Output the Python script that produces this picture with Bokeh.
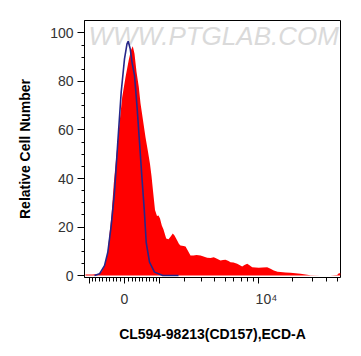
import numpy as np
from bokeh.plotting import figure
from bokeh.models import Range1d, FixedTicker, CustomJSTickFormatter, Label
from bokeh.embed import file_html
from bokeh.resources import INLINE

# ---- data (x in display channels of a biexponential axis, 0 = zero intensity) ----
red_x = [-39, -32, -26, -23, -20, -17, -15, -13, -10.7, -8, -4.7, -2.3, 1, 4.3, 6.5, 8.3, 10,
         12, 14.3, 16, 18.5, 21, 23.5, 25.5, 27, 28.5, 30.5, 32.5, 34, 35.5, 37.3, 39, 41.7, 44,
         46, 48.3, 50, 52.7, 54.5, 56, 59, 61, 63, 66, 69, 72, 76, 79, 82.7, 86, 89.3, 92, 96,
         98.5, 101, 104, 106, 109, 112.7, 115, 117.7, 120, 122.7, 125, 127.7, 131, 134.3, 138,
         142.7, 146, 149.3, 153, 156, 161, 166, 171, 176, 181, 186, 196, 206, 212.7, 214, 216]
red_y = [0.4, 0.4, 0.6, 1.5, 4, 9, 17, 25, 38, 50, 64, 73.5, 81.8, 89, 93, 94.5, 91.4,
         84, 77.7, 71, 64, 57, 51, 46, 41, 35, 27, 24.5, 24.7, 23.5, 20.6, 19, 15.3, 15,
         16, 17.3, 16.5, 14.4, 13, 12.4, 12.2, 12, 10.5, 8.2, 8.3, 8.5, 8.2, 7.8, 7.3, 7.2, 7.5, 7, 6.2,
         6.4, 6.5, 6, 5.5, 5.4, 4.8, 4.3, 3.7, 4.3, 4.8, 4.2, 3.4, 3.3, 3.2, 3.3,
         3.4, 2.8, 2.1, 1.6, 1.4, 1.2, 1.1, 0.9, 0.7, 0.4, 0.1, 0, 0, 0.2, 0.8, 1.0]

blue_x = [-30, -25, -20, -16.7, -13.3, -10, -6.7, -3.3, 0, 2.5, 3.7, 5.7, 7.5, 10, 12.7, 15,
          17.3, 19.7, 21.7, 25, 30, 38.3, 54]
blue_y = [0, 0.7, 4.1, 9.6, 20.6, 34.4, 55, 75.6, 89.3, 95.5, 96.6, 93.5, 88, 82.5, 68.7, 55,
          41.2, 27.5, 13.7, 5.5, 1.4, 0, 0]

# axis tick values (intensity) and labels
major_tick_values = [-1000, 0, 1000, 10000]
minor_tick_values = ([-v for v in range(100, 1000, 100)] + list(range(100, 1000, 100)) +
                     list(range(2000, 10000, 1000)) + [20000, 30000, 40000, 50000])
y_major = [0, 20, 40, 60, 80, 100]
y_minor = [v for v in range(0, 105, 5) if v % 20 != 0]

x_title = "CL594-98213(CD157),ECD-A"
y_title = "Relative Cell Number"
watermark = "WWW.PTGLAB.COM"


def to_display(v):
    # biexponential (arcsinh) display scale of the cytometry axis
    return 49.0 * np.arcsinh(np.asarray(v, dtype=float) / 1300.0)


p = figure(width=361, height=356, output_backend="svg", toolbar_location=None,
           x_range=Range1d(-40, 216), y_range=Range1d(-0.82, 105.15),
           min_border_left=84, min_border_right=21, min_border_top=20, min_border_bottom=79,
           frame_width=256, frame_height=257)
p.grid.visible = False
p.outline_line_color = "black"
p.outline_line_width = 1
p.background_fill_color = "white"
p.border_fill_color = "white"

wm = Label(x=-36, y=104.8, text=watermark, text_font="Liberation Sans", text_font_size="26px",
           text_font_style="italic", text_color="#dadada", text_baseline="top", text_align="left",
           level="underlay")
p.add_layout(wm)

p.varea(x=red_x, y1=0, y2=red_y, fill_color="#ff0000")
p.line(blue_x, blue_y, line_color="#26268a", line_width=1.6)

# x axis
xa = p.xaxis[0]
xa.ticker = FixedTicker(ticks=list(to_display(major_tick_values)),
                        minor_ticks=list(to_display(minor_tick_values)))
xa.formatter = CustomJSTickFormatter(
    code="if (Math.abs(tick) < 1e-6) { return '0'; } "
         "if (tick > 100) { return '\\u00a0\\u00a0\\u00a0\\u00a010\\u2074'; } return '';")
xa.axis_line_color = None
xa.major_tick_in = 0
xa.major_tick_out = 6
xa.minor_tick_in = 0
xa.minor_tick_out = 4
xa.major_label_text_font = "Liberation Sans"
xa.major_label_text_font_size = "14px"
xa.major_label_text_color = "#333333"
xa.major_label_standoff = 7
xa.axis_label = x_title
xa.axis_label_text_font = "Liberation Sans"
xa.axis_label_text_font_size = "14px"
xa.axis_label_text_font_style = "bold"
xa.axis_label_text_color = "black"
xa.axis_label_standoff = 16

# y axis
ya = p.yaxis[0]
ya.ticker = FixedTicker(ticks=y_major, minor_ticks=y_minor)
ya.axis_line_color = "black"
ya.major_tick_in = 0
ya.major_tick_out = 7
ya.minor_tick_in = 0
ya.minor_tick_out = 3
ya.major_label_text_font = "Liberation Sans"
ya.major_label_text_font_size = "14px"
ya.major_label_text_color = "#333333"
ya.major_label_standoff = 4
ya.axis_label = y_title
ya.axis_label_text_font = "Liberation Sans"
ya.axis_label_text_font_size = "14px"
ya.axis_label_text_font_style = "bold"
ya.axis_label_text_color = "black"
ya.axis_label_standoff = 14

open("out.html", "w").write(file_html(p, INLINE))
